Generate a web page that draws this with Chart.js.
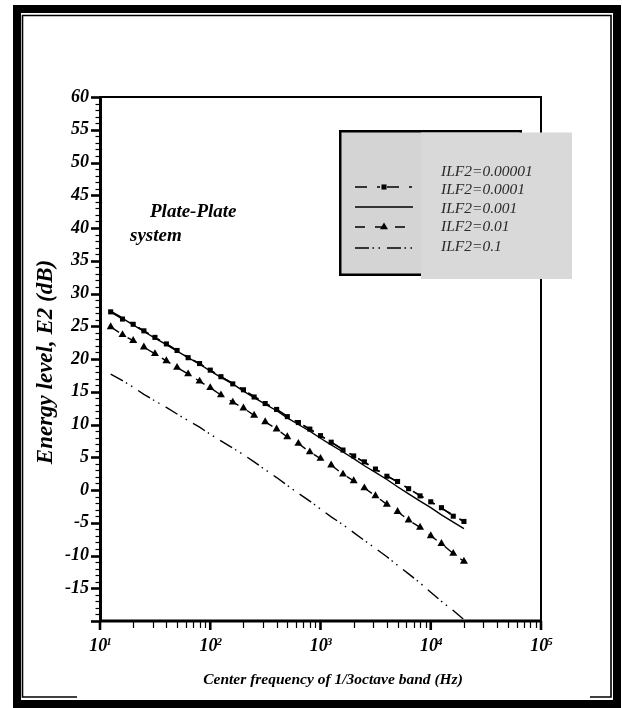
<!DOCTYPE html>
<html>
<head>
<meta charset="utf-8">
<script src="https://cdn.jsdelivr.net/npm/chart.js@4.4.0/dist/chart.umd.min.js"></script>
<style>
html,body{margin:0;padding:0;background:#fff;}
#wrap{position:relative;width:623px;height:708px;}
</style>
</head>
<body>
<div id="wrap"><canvas id="energyChart"></canvas></div>
<script>
'use strict';
const SERIF = "'Liberation Serif','Times New Roman',serif";

// 1/3 octave band centre frequencies (Hz)
const freqs = [12.5,16,20,25,31.5,40,50,63,80,100,125,160,200,250,315,400,500,630,800,1000,
  1250,1600,2000,2500,3150,4000,5000,6300,8000,10000,12500,16000,20000];

// energy level E2 (dB)
const ilf00001 = [27.3,26.3,25.3,24.3,23.3,22.3,21.3,20.3,19.3,18.3,17.3,16.3,15.3,14.3,13.3,12.3,11.3,10.3,9.3,8.3,
  7.3,6.2,5.2,4.2,3.2,2.2,1.2,0.2,-0.8,-1.8,-2.8,-3.8,-4.8];
const ilf0001 = [27.2,26.1,25.3,24.3,23.3,22.3,21.3,20.2,19.3,18.3,17.3,16.2,15.3,14.2,13.2,12.3,11.2,10.3,9.3,8.3,
  7.3,6.1,5.2,4.3,3.2,2.1,1.3,0.2,-0.9,-1.8,-2.7,-4.0,-4.8];
const ilf001 = [27.2,26.2,25.2,24.2,23.2,22.2,21.2,20.2,19.2,18.2,17.2,16.2,15.1,14.1,13.1,12.1,11.0,10.0,9.0,7.9,
  6.9,5.8,4.8,3.7,2.7,1.6,0.5,-0.6,-1.7,-2.7,-3.8,-4.9,-5.9];
const ilf01 = [24.9,23.7,22.8,21.8,20.8,19.7,18.7,17.7,16.6,15.6,14.5,13.4,12.5,11.4,10.4,9.3,8.1,7.1,5.8,4.8,
  3.8,2.4,1.4,0.3,-0.9,-2.2,-3.3,-4.6,-5.7,-7.0,-8.2,-9.7,-10.9];
const ilf1 = [17.7,16.7,15.7,14.6,13.6,12.6,11.6,10.6,9.6,8.5,7.5,6.4,5.4,4.3,3.1,1.9,0.7,-0.5,-1.7,-2.9,
  -4.1,-5.3,-6.5,-7.7,-8.9,-10.2,-11.5,-12.8,-14.2,-15.6,-17.0,-18.4,-19.8];

const seriesLabels = ['ILF2=0.00001','ILF2=0.0001','ILF2=0.001','ILF2=0.01','ILF2=0.1'];
const xDecades = [10,100,1000,10000,100000];
const xExponents = ['1','2','3','4','5'];
const yMin = -20, yMax = 60;
const xTitle = 'Center frequency of 1/3octave band (Hz)';
const yTitle = 'Energy level, E2 (dB)';
const noteLines = ['Plate-Plate','system'];

const pts = vals => vals.map((v,i)=>({x:freqs[i],y:v}));
const base = {borderColor:'#000',backgroundColor:'#000',fill:false,tension:0,borderWidth:1.4,pointRadius:0,pointBorderWidth:0};

const datasets = [
  {...base,label:seriesLabels[0],data:pts(ilf00001),borderDash:[12,10,3,7],noSample:true},
  {...base,label:seriesLabels[1],data:pts(ilf0001),borderDash:[12,10,3,7],pointStyle:'rect',pointRadius:3.6},
  {...base,label:seriesLabels[2],data:pts(ilf001)},
  {...base,label:seriesLabels[3],data:pts(ilf01),borderDash:[10,10],pointStyle:'triangle',pointRadius:4.6},
  {...base,label:seriesLabels[4],data:pts(ilf1),borderDash:[14,3.5,1.5,4.5,1.5,7]}
];

// ── paper frame ─────────────────────────────────────────────────────────────
const paper = {
  id:'paper',
  beforeDraw(chart){
    const ctx = chart.ctx;
    ctx.save();
    ctx.fillStyle = '#fff';
    ctx.fillRect(0,0,chart.width,chart.height);
    ctx.strokeStyle = '#000';
    ctx.lineWidth = 8;
    ctx.strokeRect(17,9,600,695);
    ctx.lineWidth = 1.6;
    ctx.beginPath();
    ctx.moveTo(77,697);ctx.lineTo(22.5,697);ctx.lineTo(22.5,15.5);
    ctx.lineTo(611,15.5);ctx.lineTo(611,697);ctx.lineTo(590,697);
    ctx.stroke();
    ctx.restore();
  }
};

// ── axes, ticks, titles ─────────────────────────────────────────────────────
const axes = {
  id:'axes',
  beforeDatasetsDraw(chart){
    const {ctx, chartArea:a, scales:{x,y}} = chart;
    ctx.save();
    ctx.strokeStyle = '#000';
    ctx.lineWidth = 2;
    ctx.beginPath();
    ctx.moveTo(a.left,a.top);ctx.lineTo(a.right,a.top);ctx.lineTo(a.right,a.bottom);
    ctx.stroke();
    ctx.lineWidth = 3;
    ctx.beginPath();
    ctx.moveTo(a.left+0.5,a.top-1);ctx.lineTo(a.left+0.5,a.bottom+1.5);
    ctx.moveTo(a.left-1,a.bottom);ctx.lineTo(a.right+1,a.bottom);
    ctx.stroke();

    // y ticks: major every 5, minor every 1
    for(let v=yMin; v<=yMax; v++){
      const py = Math.round(y.getPixelForValue(v))+0.5;
      const major = v%5===0;
      ctx.lineWidth = major?2.6:1.2;
      ctx.beginPath();
      ctx.moveTo(a.left-(major?9:4.5),py);ctx.lineTo(a.left,py);
      ctx.stroke();
    }
    // x ticks: decades and 2..9 minors
    xDecades.forEach((d,k)=>{
      const px = x.getPixelForValue(d);
      ctx.lineWidth = 2.6;
      ctx.beginPath();ctx.moveTo(px,a.bottom);ctx.lineTo(px,a.bottom+9);ctx.stroke();
      if(k<xDecades.length-1){
        for(let m=2;m<=9;m++){
          const pm = Math.round(x.getPixelForValue(d*m))+0.5;
          ctx.lineWidth = 1.2;
          ctx.beginPath();ctx.moveTo(pm,a.bottom);ctx.lineTo(pm,a.bottom+7);ctx.stroke();
        }
      }
    });

    // x tick labels with superscript exponent
    ctx.fillStyle = '#000';
    ctx.textBaseline = 'alphabetic';
    xDecades.forEach((d,k)=>{
      const px = x.getPixelForValue(d);
      ctx.font = `italic bold 18px ${SERIF}`;
      const w1 = ctx.measureText('10').width;
      ctx.font = `italic bold 11px ${SERIF}`;
      const w2 = ctx.measureText(xExponents[k]).width;
      const x0 = px-(w1+w2)/2+1;
      ctx.font = `italic bold 18px ${SERIF}`;
      ctx.textAlign = 'left';
      ctx.fillText('10',x0,651);
      ctx.font = `italic bold 11px ${SERIF}`;
      ctx.fillText(xExponents[k],x0+w1-1,645);
    });

    // axis titles
    ctx.font = `italic bold 15.5px ${SERIF}`;
    ctx.textAlign = 'center';
    ctx.fillText(xTitle,333,684);
    ctx.save();
    ctx.translate(52,362);
    ctx.rotate(-Math.PI/2);
    ctx.font = `italic bold 23px ${SERIF}`;
    ctx.fillText(yTitle,0,0);
    ctx.restore();

    // in-plot note
    ctx.font = `italic bold 19px ${SERIF}`;
    ctx.textAlign = 'left';
    ctx.fillText(noteLines[0],150,217);
    ctx.fillText(noteLines[1],130,241);
    ctx.restore();
  }
};

// ── key box ─────────────────────────────────────────────────────────────────
const keyBox = {
  id:'keyBox',
  afterDatasetsDraw(chart){
    const ctx = chart.ctx;
    ctx.save();
    ctx.fillStyle = '#d4d4d4';
    ctx.fillRect(339,130,183,146);
    ctx.strokeStyle = '#000';
    ctx.lineWidth = 2.5;
    ctx.strokeRect(340.25,131.25,180.5,143.5);
    ctx.fillStyle = '#d9d9d9';
    ctx.fillRect(421,132.5,151,146.5);

    const textY = [175.5,193.5,212.5,231,250.5];
    const sampleY = [null,187,207,227,248];
    chart.data.datasets.forEach((ds,i)=>{
      ctx.fillStyle = '#2a2a2a';
      ctx.font = `italic 15.5px ${SERIF}`;
      ctx.textAlign = 'left';
      ctx.textBaseline = 'alphabetic';
      ctx.fillText(ds.label,441,textY[i]);
      if(ds.noSample) return;
      const sy = sampleY[i];
      ctx.strokeStyle = '#000';
      ctx.lineWidth = 1.6;
      ctx.setLineDash(ds.borderDash||[]);
      ctx.beginPath();ctx.moveTo(355,sy);ctx.lineTo(413,sy);ctx.stroke();
      ctx.setLineDash([]);
      if(ds.pointRadius>0){
        ctx.fillStyle = '#000';
        Chart.helpers.drawPoint(ctx,{pointStyle:ds.pointStyle,radius:ds.pointRadius,rotation:0,borderWidth:0},384,sy);
      }
    });
    ctx.restore();
  }
};

new Chart(document.getElementById('energyChart'),{
  type:'line',
  data:{datasets},
  options:{
    responsive:true,maintainAspectRatio:false,animation:false,
    layout:{padding:{left:0,top:97,right:82,bottom:0}},
    plugins:{legend:{display:false},tooltip:{enabled:false}},
    scales:{
      x:{type:'logarithmic',min:10,max:100000,
        ticks:{display:false},grid:{display:false},border:{display:false},
        afterFit(s){s.height=87;}},
      y:{type:'linear',min:yMin,max:yMax,
        ticks:{stepSize:5,autoSkip:false,padding:11,color:'#000',
          font:{family:SERIF,size:18,weight:'bold',style:'italic'},
          callback:v=>v===yMin?'':String(v)},
        grid:{display:true,drawOnChartArea:false,drawTicks:false,color:'rgba(0,0,0,0)'},
        border:{display:false},
        afterFit(s){s.width=100;}}
    }
  },
  plugins:[paper,axes,keyBox]
});
</script>
</body>
</html>
